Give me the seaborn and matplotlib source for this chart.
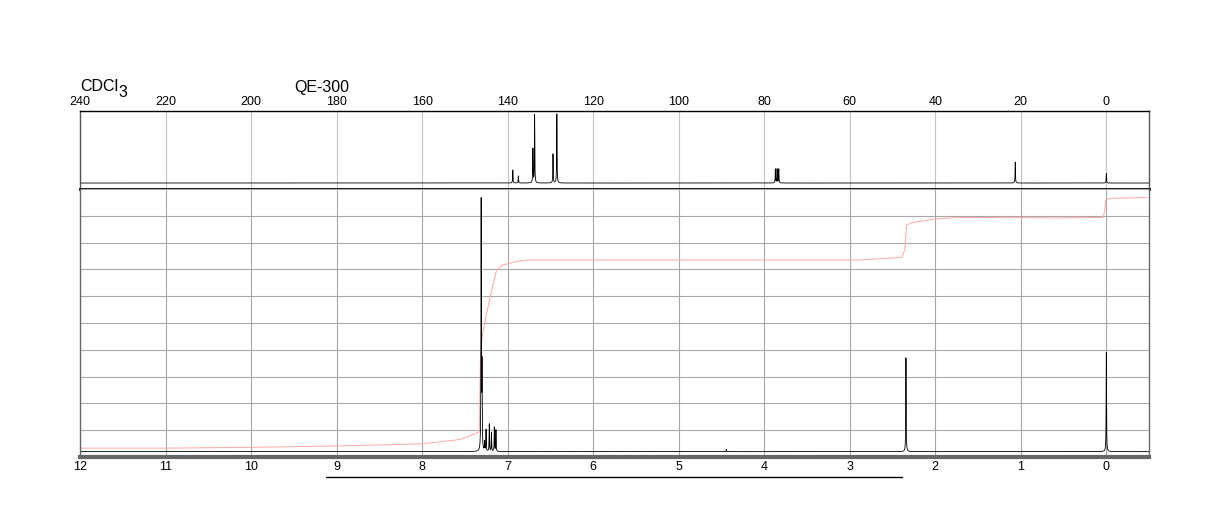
import numpy as np
import pandas as pd
import matplotlib
matplotlib.use("Agg")
import matplotlib.pyplot as plt
import seaborn as sns
from matplotlib.transforms import blended_transform_factory

# ---------------- data ----------------
# 13C spectrum (top panel): peak positions (ppm) and heights (panel units, baseline at 6)
c_ppm = [138.8, 137.5, 134.1, 133.7, 129.4, 128.5, 77.4, 77.0, 76.6, 21.3, 0.0]
c_height = [13, 7, 34, 68, 29, 69, 14, 14, 14, 21, 9.5]
c_baseline = 6.0
c_ticks = [240, 220, 200, 180, 160, 140, 120, 100, 80, 60, 40, 20, 0]

# 1H spectrum (bottom panel): peak positions (ppm) and heights (grid divisions)
h_ppm = [7.310, 7.300, 7.270, 7.253, 7.215, 7.190, 7.156, 7.137, 4.444, 2.343, 0.000]
h_height = [9.3, 3.0, 0.35, 0.8, 1.02, 0.7, 0.9, 0.8, 0.08, 3.5, 3.7]
h_baseline = 0.2
h_ticks = [12, 11, 10, 9, 8, 7, 6, 5, 4, 3, 2, 1, 0]

# integral curve (ppm, grid divisions)
int_ppm = [12.0, 10.99, 10.02, 9.00, 8.00, 7.56, 7.45, 7.331, 7.319, 7.308, 7.292,
           7.249, 7.194, 7.129, 7.062, 6.903, 6.782, 4.763, 2.895, 2.390, 2.358,
           2.341, 2.332, 2.277, 2.000, 1.728, 0.561, 0.036, 0.018, 0.006, -0.047, -0.478]
int_val = [0.33, 0.33, 0.36, 0.41, 0.49, 0.65, 0.78, 0.94, 3.62, 4.18, 4.63,
           5.30, 6.12, 6.98, 7.16, 7.29, 7.35, 7.35, 7.35, 7.45, 7.72,
           8.40, 8.66, 8.74, 8.88, 8.94, 8.92, 8.94, 9.22, 9.59, 9.65, 9.68]

underline_ppm = [9.12, 2.39]

# ---------------- style ----------------
sns.set_theme(style="white")
plt.rcParams["font.family"] = ["Liberation Sans", "DejaVu Sans"]
plt.rcParams["text.color"] = "black"
plt.rcParams["xtick.color"] = "black"
plt.rcParams["xtick.labelcolor"] = "black"


def lorentz_sum(x, centers, heights, hwhm, base):
    y = np.full_like(x, base, dtype=float)
    for p, h in zip(centers, heights):
        y += h * hwhm**2 / ((x - p) ** 2 + hwhm**2)
    return y


c_x = np.linspace(240, -10, 25001)
df_c = pd.DataFrame({"ppm": c_x, "intensity": lorentz_sum(c_x, c_ppm, c_height, 0.05, c_baseline)})
h_x = np.linspace(12, -0.5, 25001)
df_h = pd.DataFrame({"ppm": h_x, "intensity": lorentz_sum(h_x, h_ppm, h_height, 0.0025, h_baseline)})
df_int = pd.DataFrame({"ppm": int_ppm, "integral": int_val})

fig = plt.figure(figsize=(12.24, 5.28), dpi=100)
ax_c = fig.add_axes([0.0654, 0.6420, 0.8734, 0.1477])
ax_h = fig.add_axes([0.0654, 0.1345, 0.8734, 0.5076])

# ---- top panel (13C) ----
sns.lineplot(data=df_c, x="ppm", y="intensity", ax=ax_c, color="black", lw=0.6,
             estimator=None, sort=False)
ax_c.set_xlim(240, -10)
ax_c.set_ylim(0, 78)
ax_c.xaxis.tick_top()
ax_c.set_xticks(c_ticks)
ax_c.set_xticklabels([str(t) for t in c_ticks])
ax_c.set_yticks([])
ax_c.tick_params(axis="x", length=0, pad=2, labelsize=9, colors="black")
ax_c.grid(True, axis="x", color="#c4c4c4", lw=0.8)
ax_c.set_xlabel("")
ax_c.set_ylabel("")
for s in ["left", "right"]:
    ax_c.spines[s].set_color("#555555")
    ax_c.spines[s].set_linewidth(1.0)
ax_c.spines["top"].set_color("black")
ax_c.spines["top"].set_linewidth(1.0)
ax_c.spines["bottom"].set_color("black")
ax_c.spines["bottom"].set_linewidth(2.0)
ax_c.spines["bottom"].set_zorder(5)

# ---- bottom panel (1H) ----
sns.lineplot(data=df_int, x="ppm", y="integral", ax=ax_h, color="#ffa6a6", lw=0.7,
             estimator=None, sort=False)
sns.lineplot(data=df_h, x="ppm", y="intensity", ax=ax_h, color="black", lw=0.6,
             estimator=None, sort=False)
ax_h.set_xlim(12, -0.5)
ax_h.set_ylim(0, 10)
ax_h.set_xticks(h_ticks)
ax_h.set_xticklabels([str(t) for t in h_ticks])
ax_h.set_yticks(np.arange(0, 11))
ax_h.set_yticklabels([])
ax_h.tick_params(axis="both", length=0)
ax_h.tick_params(axis="x", pad=3, labelsize=9, colors="black")
ax_h.grid(True, color="#a8a8a8", lw=0.8)
ax_h.set_axisbelow(True)
ax_h.set_xlabel("")
ax_h.set_ylabel("")
ax_h.spines["top"].set_visible(False)
for s in ["left", "right"]:
    ax_h.spines[s].set_color("#666666")
    ax_h.spines[s].set_linewidth(1.0)
ax_h.spines["bottom"].set_color("#666666")
ax_h.spines["bottom"].set_linewidth(3.0)

trans = blended_transform_factory(ax_h.transData, ax_h.transAxes)
ax_h.plot(underline_ppm, [-0.075, -0.075], transform=trans, clip_on=False,
          color="black", lw=1.0)

# ---- header texts ----
fig.text(80 / 1224, 0.8277, "CDCl", fontsize=11.5, va="baseline", ha="left", color="black")
fig.text(118.5 / 1224, 0.8163, "3", fontsize=11.5, va="baseline", ha="left", color="black")
fig.text(294 / 1224, 0.8258, "QE-300", fontsize=11.5, va="baseline", ha="left", color="black")

fig.savefig("out.png", dpi=100)
